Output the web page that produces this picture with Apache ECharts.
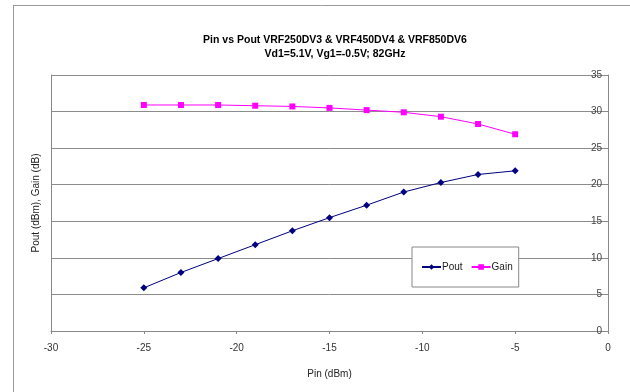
<!DOCTYPE html>
<html>
<head>
<meta charset="utf-8">
<script src="https://cdn.jsdelivr.net/npm/echarts@6/dist/echarts.min.js"></script>
<style>
  html, body { margin: 0; padding: 0; background: #fff; }
  #container { width: 630px; height: 392px; }
</style>
</head>
<body>
<div id="container"></div>
<script>
// 数据
var pinValues = [-25, -23, -21, -19, -17, -15, -13, -11, -9, -7, -5];
var poutValues = [5.9, 8.0, 9.9, 11.8, 13.7, 15.5, 17.2, 19.0, 20.3, 21.4, 21.9];
var gainValues = [30.9, 30.9, 30.9, 30.8, 30.7, 30.5, 30.2, 29.9, 29.3, 28.3, 26.9];
var xTicks = [-30, -25, -20, -15, -10, -5, 0];
var yTicks = [0, 5, 10, 15, 20, 25, 30, 35];

function pairs(xs, ys) {
    return xs.map(function (x, i) { return [x, ys[i]]; });
}

var myChart = echarts.init(document.getElementById('container'));
var fontFamily = '"Liberation Sans", Arial, sans-serif';

var option = {
    animation: false,
    backgroundColor: '#fff',
    textStyle: { fontFamily: fontFamily },
    title: {
        text: 'Pin vs Pout VRF250DV3 & VRF450DV4 & VRF850DV6\nVd1=5.1V, Vg1=-0.5V; 82GHz',
        left: 330,
        textAlign: 'center',
        top: 28,
        textStyle: {
            fontSize: 10.5,
            fontWeight: 'bold',
            color: '#000',
            lineHeight: 14,
            fontFamily: fontFamily
        }
    },
    //外框线
    graphic: [
        { type: 'line', shape: { x1: 13, y1: 5.5, x2: 630, y2: 5.5 }, style: { stroke: '#999', lineWidth: 1 } },
        { type: 'line', shape: { x1: 13.5, y1: 5, x2: 13.5, y2: 392 }, style: { stroke: '#999', lineWidth: 1 } }
    ],
    grid: {
        left: 51,
        right: 22,
        top: 75,
        bottom: 61
    },
    legend: {
        data: ['Pout', 'Gain'],
        left: 412,
        top: 247,
        orient: 'horizontal',
        backgroundColor: '#fff',
        borderColor: '#888',
        borderWidth: 1,
        padding: [15, 6, 15, 9],
        itemWidth: 19,
        itemHeight: 7,
        itemGap: 8,
        textStyle: { fontSize: 10, color: '#222', padding: [0, 0, 0, -4] }
    },
    xAxis: {
        type: 'value',
        min: -30,
        max: 0,
        interval: 5,
        name: 'Pin (dBm)',
        nameLocation: 'middle',
        nameGap: 38,
        nameTextStyle: { fontSize: 10, color: '#222' },
        axisLine: { show: true, onZero: false, lineStyle: { color: '#888' } },
        axisTick: { show: true, length: 3, lineStyle: { color: '#888' } },
        axisLabel: {
            fontSize: 10,
            color: '#333',
            margin: 12,
            formatter: function (v) { return xTicks.indexOf(v) >= 0 ? String(v) : ''; }
        },
        splitLine: { show: false }
    },
    yAxis: [
        {
            type: 'value',
            position: 'right',
            min: 0,
            max: 35,
            interval: 5,
            axisLine: { show: true, lineStyle: { color: '#888' } },
            axisTick: { show: true, inside: true, length: 3, lineStyle: { color: '#888' } },
            axisLabel: {
                inside: true,
                fontSize: 10,
                color: '#444',
                margin: 6,
                formatter: function (v) { return yTicks.indexOf(v) >= 0 ? String(v) : ''; }
            },
            splitLine: { show: true, lineStyle: { color: '#8c8c8c', width: 1 } }
        },
        {
            type: 'value',
            position: 'left',
            min: 0,
            max: 35,
            interval: 5,
            name: 'Pout (dBm), Gain (dB)',
            nameLocation: 'middle',
            nameGap: 10,
            nameRotate: 90,
            nameTextStyle: { fontSize: 10, color: '#222' },
            axisLine: { show: true, lineStyle: { color: '#888' } },
            axisTick: { show: false },
            axisLabel: { show: false },
            splitLine: { show: false }
        }
    ],
    series: [
        {
            name: 'Pout',
            type: 'line',
            yAxisIndex: 0,
            data: pairs(pinValues, poutValues),
            symbol: 'diamond',
            symbolSize: 7,
            itemStyle: { color: '#000080' },
            lineStyle: { color: '#000080', width: 1 }
        },
        {
            name: 'Gain',
            type: 'line',
            yAxisIndex: 0,
            data: pairs(pinValues, gainValues),
            symbol: 'rect',
            symbolSize: 6,
            itemStyle: { color: '#ff00ff' },
            lineStyle: { color: '#ff00ff', width: 1 }
        }
    ]
};

myChart.setOption(option);
</script>
</body>
</html>
